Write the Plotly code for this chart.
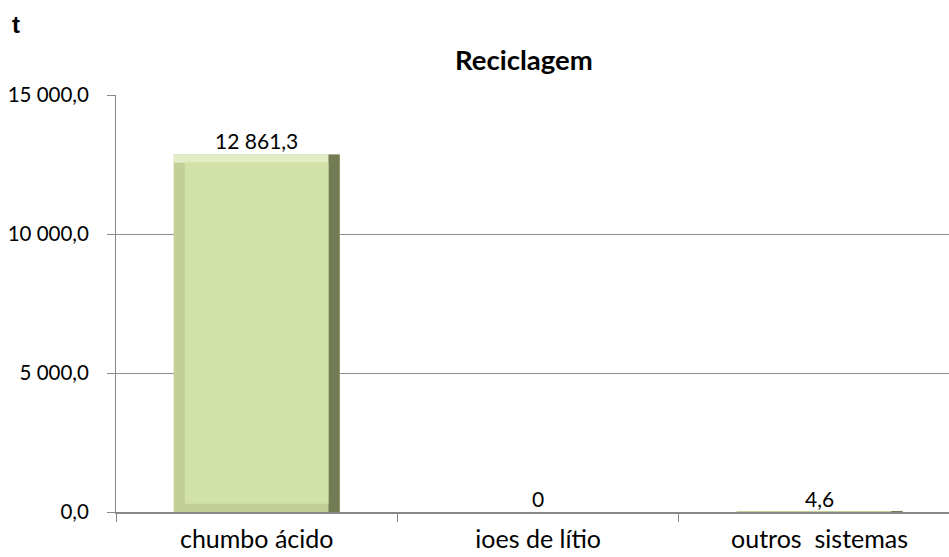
import plotly.graph_objects as go

categories = ["chumbo ácido", "ioes de lítio", "outros  sistemas"]
values = [12861.3, 0.0, 4.6]
value_labels = ["12 861,3", "0", "4,6"]
y_ticks = [0, 5000, 10000, 15000]
title_text = "Reciclagem"
unit_text = "t"

FONT = "Lato, Carlito, Calibri, sans-serif"
BAR_W = 0.59
EDGE_W = 0.04
BEVEL = 300

fig = go.Figure()

# full bar in bevel tone (left / bottom)
fig.add_trace(go.Bar(
    x=categories, y=values, width=BAR_W,
    marker=dict(color="#c2d098", line=dict(width=0)),
    hoverinfo="skip", showlegend=False,
))
# top lighter bevel
fig.add_trace(go.Bar(
    x=categories, y=[BEVEL if v > 2 * BEVEL else 0 for v in values],
    base=[v - BEVEL for v in values],
    width=BAR_W,
    marker=dict(color="#e2ecc5", line=dict(width=0)),
    hoverinfo="skip", showlegend=False,
))
# dark right bevel
fig.add_trace(go.Bar(
    x=categories, y=values, width=EDGE_W, offset=BAR_W / 2 - EDGE_W,
    marker=dict(color="#737b54", line=dict(width=0)),
    hoverinfo="skip", showlegend=False,
))
# inner face of bar
fig.add_trace(go.Bar(
    x=categories, y=[max(v - 2 * BEVEL, 0) for v in values],
    base=[BEVEL if v > 2 * BEVEL else 0 for v in values],
    width=BAR_W - 2 * EDGE_W, offset=-BAR_W / 2 + EDGE_W,
    marker=dict(color="#d2e1a7", line=dict(width=0)),
    hoverinfo="skip", showlegend=False,
))
# data labels
fig.add_trace(go.Scatter(
    x=categories, y=values, mode="text", text=value_labels,
    textposition="top center",
    textfont=dict(family=FONT, size=21, color="#000000"),
    showlegend=False, hoverinfo="skip",
))

fig.update_layout(
    width=949, height=557,
    margin=dict(l=116, r=0, t=95, b=45, autoexpand=False),
    paper_bgcolor="white", plot_bgcolor="white",
    barmode="overlay",
    separators=", ",
    title=dict(text="<b>" + title_text + "</b>", x=0.552, xanchor="center",
               y=0.892, yanchor="middle", automargin=False,
               font=dict(family=FONT, size=27.5, color="#000000")),
    annotations=[dict(text="<b>" + unit_text + "</b>", xref="paper", yref="paper",
                      x=-0.127, y=1.17, xanchor="left", yanchor="middle",
                      showarrow=False,
                      font=dict(family="Liberation Sans, Arial, sans-serif", size=24, color="#000"))],
)

fig.update_xaxes(
    range=[-0.5, 2.46], automargin=False,
    tickson="boundaries", ticks="outside", ticklen=8, tickcolor="#888888", tickwidth=1,
    showline=True, linecolor="#888888", linewidth=2,
    showgrid=False,
    tickfont=dict(family=FONT, size=25, color="#000000"),
    ticklabelstandoff=4,
)
fig.update_yaxes(
    range=[0, 15000], tickvals=y_ticks, tickformat=",.1f", automargin=False,
    ticks="outside", ticklen=8, tickcolor="#888888", tickwidth=1,
    showline=True, linecolor="#888888", linewidth=1,
    showgrid=True, gridcolor="#8c8c8c", gridwidth=1.3,
    zeroline=False,
    tickfont=dict(family=FONT, size=20.5, color="#000000"),
    ticklabelstandoff=14,
)

fig.write_html("out.html", config={"displayModeBar": False},
               post_script="document.body.style.margin='0';document.body.style.overflow='hidden';")
